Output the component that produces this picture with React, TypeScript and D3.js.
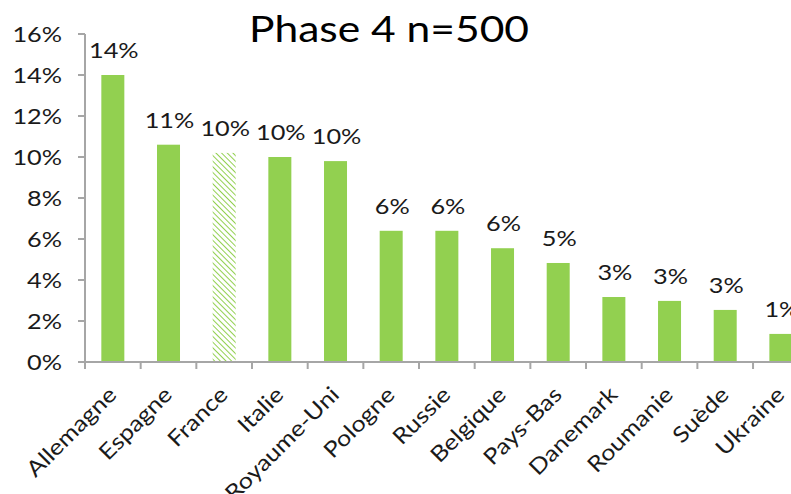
import React, { useEffect, useRef } from "react";
import * as d3 from "d3";

const categories = [
  "Allemagne", "Espagne", "France", "Italie", "Royaume-Uni", "Pologne", "Russie",
  "Belgique", "Pays-Bas", "Danemark", "Roumanie", "Suède", "Ukraine",
];
const values = [14.0, 10.6, 10.2, 10.0, 9.8, 6.4, 6.4, 5.55, 4.83, 3.17, 2.98, 2.54, 1.37];
const hatched = ["France"];
const yTicks = [0, 2, 4, 6, 8, 10, 12, 14, 16];
const title = "Phase 4 n=500";

const W = 791;
const H = 494;
const FONT = "Lato, 'Open Sans', sans-serif";
const GREEN = "#92d050";
const AXIS = "#a6a6a6";
const INK = "#1a1a1a";
// text is drawn slightly widened
const SX = 1.15;

export default function App() {
  const ref = useRef<SVGSVGElement>(null);

  useEffect(() => {
    const svg = d3.select(ref.current);
    svg.selectAll("*").remove();

    const x0 = 85;
    const step = 55.67;
    const x = d3
      .scaleBand<string>()
      .domain(categories)
      .range([x0, x0 + step * categories.length])
      .paddingInner(0)
      .paddingOuter(0);
    const y = d3.scaleLinear().domain([0, 16]).range([362, 34]);
    const barW = 23;
    const cx = (d: string) => (x(d) as number) + x.bandwidth() / 2;

    const defs = svg.append("defs");
    const pat = defs
      .append("pattern")
      .attr("id", "hatch")
      .attr("patternUnits", "userSpaceOnUse")
      .attr("width", 4)
      .attr("height", 4)
      .attr("patternTransform", "rotate(-45)");
    pat.append("rect").attr("width", 4).attr("height", 4).attr("fill", "#fff");
    pat
      .append("line")
      .attr("x1", 0).attr("y1", 0).attr("x2", 0).attr("y2", 4)
      .attr("stroke", GREEN)
      .attr("stroke-width", 2);

    // title
    svg
      .append("text")
      .attr("transform", `translate(389,42) scale(${SX},1)`)
      .attr("text-anchor", "middle")
      .attr("font-family", FONT)
      .attr("font-size", 37)
      .attr("fill", "#000")
      .text(title);

    // y axis
    const gy = svg.append("g");
    gy.append("line")
      .attr("x1", x0).attr("x2", x0)
      .attr("y1", y(16)).attr("y2", y(0))
      .attr("stroke", AXIS).attr("stroke-width", 2);
    gy.selectAll("line.tick")
      .data(yTicks)
      .join("line")
      .attr("class", "tick")
      .attr("x1", x0 - 7).attr("x2", x0)
      .attr("y1", (d) => y(d)).attr("y2", (d) => y(d))
      .attr("stroke", AXIS).attr("stroke-width", 2);
    gy.selectAll("text")
      .data(yTicks)
      .join("text")
      .attr("transform", (d) => `translate(62,${y(d)}) scale(${SX},1)`)
      .attr("dy", "0.35em")
      .attr("text-anchor", "end")
      .attr("font-family", FONT)
      .attr("font-size", 22)
      .attr("fill", INK)
      .text((d) => `${d}%`);

    // bars
    svg
      .append("g")
      .selectAll("rect")
      .data(categories)
      .join("rect")
      .attr("x", (d) => cx(d) - barW / 2)
      .attr("width", barW)
      .attr("y", (_, i) => y(values[i]))
      .attr("height", (_, i) => y(0) - y(values[i]))
      .attr("fill", (d) => (hatched.includes(d) ? "url(#hatch)" : GREEN));

    // value labels
    svg
      .append("g")
      .selectAll("text")
      .data(categories)
      .join("text")
      .attr("transform", (d, i) => `translate(${cx(d) + 1},${y(values[i]) - 17}) scale(${SX},1)`)
      .attr("text-anchor", "middle")
      .attr("font-family", FONT)
      .attr("font-size", 22)
      .attr("fill", INK)
      .text((_, i) => `${Math.round(values[i])}%`);

    // x axis
    const gx = svg.append("g");
    gx.append("line")
      .attr("x1", x0 - 7).attr("x2", x0 + step * categories.length)
      .attr("y1", y(0)).attr("y2", y(0))
      .attr("stroke", AXIS).attr("stroke-width", 2);
    gx.selectAll("line.tick")
      .data(categories)
      .join("line")
      .attr("class", "tick")
      .attr("x1", (d) => x(d) as number).attr("x2", (d) => x(d) as number)
      .attr("y1", y(0)).attr("y2", y(0) + 7)
      .attr("stroke", AXIS).attr("stroke-width", 2);
    gx.selectAll("text")
      .data(categories)
      .join("text")
      .attr("transform", (d) => `translate(${cx(d) + 5},${y(0) + 34}) rotate(-45) scale(${SX},1)`)
      .attr("text-anchor", "end")
      .attr("font-family", FONT)
      .attr("font-size", 22)
      .attr("fill", INK)
      .text((d) => d);
  }, []);

  return (
    <svg
      ref={ref}
      width={W}
      height={H}
      style={{ position: "absolute", left: 0, top: 0, background: "#fff" }}
    />
  );
}
